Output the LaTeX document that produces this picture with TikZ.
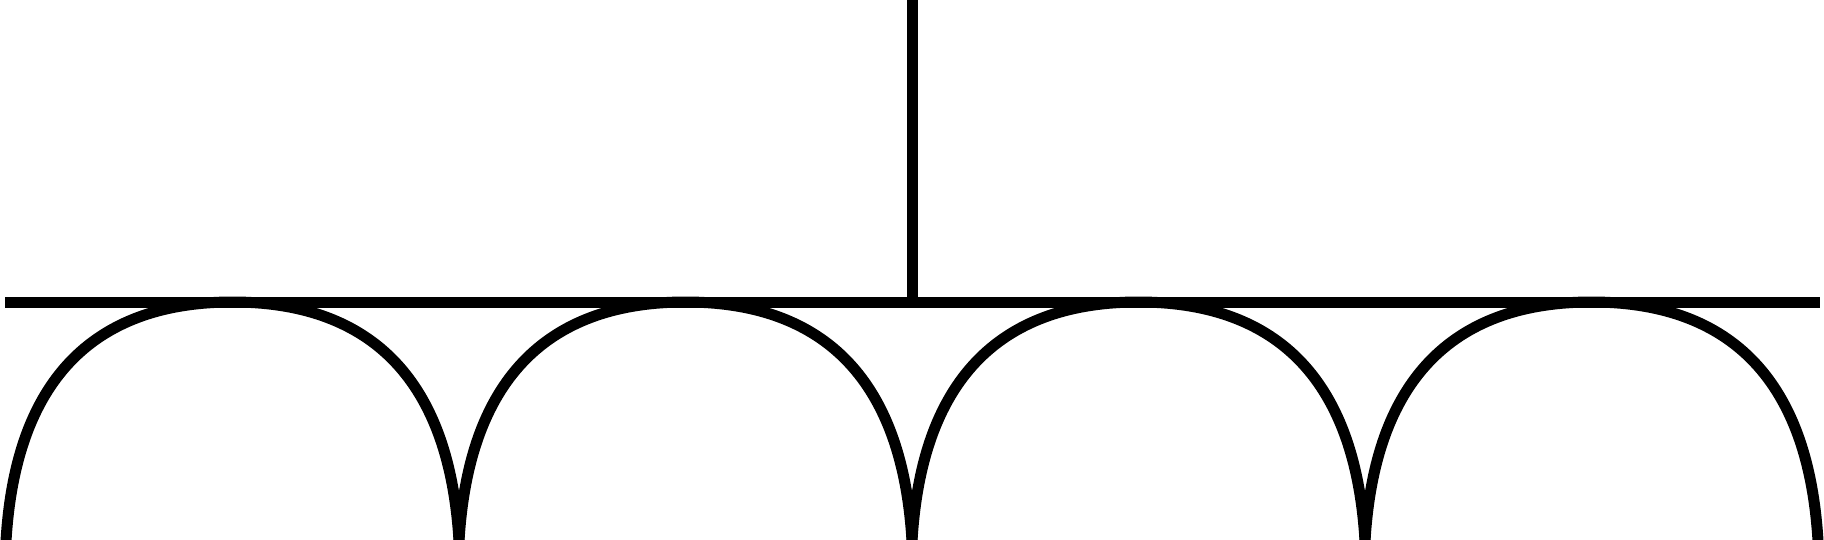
\documentclass[tikz,border=0pt]{standalone}
\begin{document}
\begin{tikzpicture}[x=0.01cm,y=-0.01cm,
  wire/.style={line width=0.11cm,black}]
\useasboundingbox (0,0) rectangle (1824,539);
\coordinate (hl) at (5,302);
\coordinate (hr) at (1820,302);
\coordinate (vt) at (912,0);
\coordinate (vb) at (912,302);
\draw[wire] (hl) -- (hr);
\draw[wire] (vt) -- (vb);
\foreach \i in {0,1,2,3}{
  \pgfmathsetmacro{\L}{6+453*\i}
  \pgfmathsetmacro{\T}{\L+226.5}
  \pgfmathsetmacro{\R}{\L+453}
  \coordinate (a\i) at (\L,541);
  \coordinate (t\i) at (\T,302);
  \coordinate (b\i) at (\R,541);
  \draw[wire] (a\i) .. controls (\L+10,372) and (\L+95,302) .. (t\i)
              .. controls (\R-95,302) and (\R-10,372) .. (b\i);
}
\end{tikzpicture}
\end{document}
